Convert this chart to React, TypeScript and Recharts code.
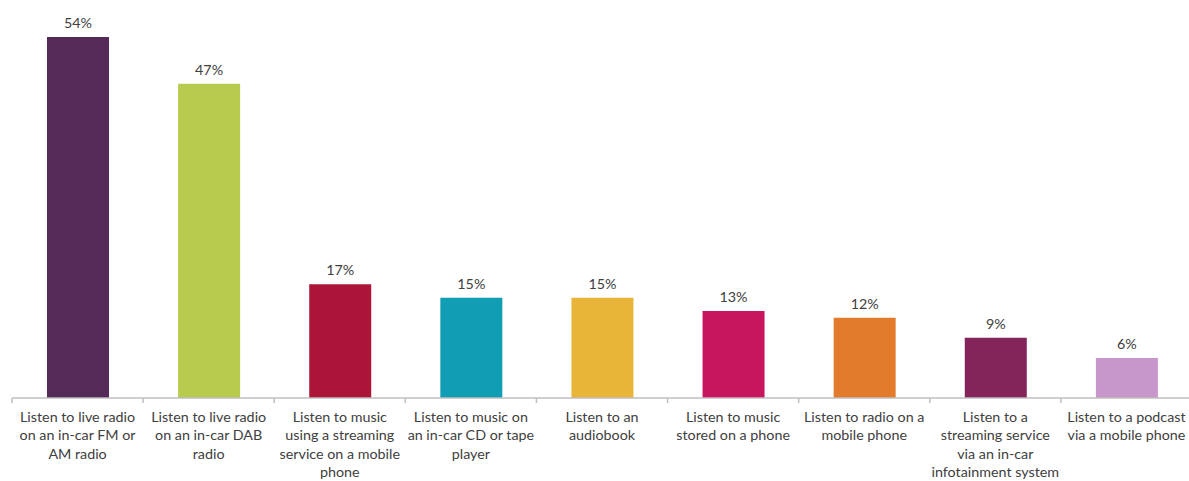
import React from "react";
import { BarChart, Bar, XAxis, YAxis, Cell, LabelList } from "recharts";

const categories: string[] = [
  "Listen to live radio\non an in-car FM or\nAM radio",
  "Listen to live radio\non an in-car DAB\nradio",
  "Listen to music\nusing a streaming\nservice on a mobile\nphone",
  "Listen to music on\nan in-car CD or tape\nplayer",
  "Listen to an\naudiobook",
  "Listen to music\nstored on a phone",
  "Listen to radio on a\nmobile phone",
  "Listen to a\nstreaming service\nvia an in-car\ninfotainment system",
  "Listen to a podcast\nvia a mobile phone",
];
const values: number[] = [54, 47, 17, 15, 15, 13, 12, 9, 6];
const colors: string[] = [
  "#532A58",
  "#B8CB4F",
  "#AD1538",
  "#119DB3",
  "#E8B538",
  "#C8165E",
  "#E27B2B",
  "#83245B",
  "#C797CC",
];

const data = categories.map((name, i) => ({ name, value: values[i] }));

const FONT = "Lato, 'Open Sans', sans-serif";
const TEXT = "#404040";
const AXIS = "#BFBFBF";
const W = 1189;
const H = 481;
const M = { top: 37, right: -3, left: 12, bottom: 0 };
const BAND = (W - M.left - M.right) / categories.length;

const CatTick = (props: any) => {
  const { x, y, payload, index } = props;
  const lines = String(payload.value).split("\n");
  const y0 = y;
  return (
    <g>
      <line x1={x - BAND / 2} x2={x - BAND / 2} y1={y0} y2={y0 + 5} stroke={AXIS} strokeWidth={1.5} />
      {index === categories.length - 1 && (
        <line x1={x + BAND / 2} x2={x + BAND / 2} y1={y0} y2={y0 + 5} stroke={AXIS} strokeWidth={1.5} />
      )}
      {lines.map((l, i) => (
        <text
          key={i}
          x={x}
          y={y0 + 24 + i * 18.4}
          textAnchor="middle"
          fontFamily={FONT}
          fontSize={14.3}
          fill={TEXT}
        >
          {l}
        </text>
      ))}
    </g>
  );
};

export default function App() {
  return (
    <div style={{ position: "absolute", left: 0, top: 0, width: W, height: H, overflow: "hidden", background: "#fff" }}>
      <BarChart width={W} height={H} data={data} margin={M}>
        <XAxis
          dataKey="name"
          height={83}
          tickLine={false}
          tickSize={0}
          tickMargin={0}
          axisLine={{ stroke: AXIS, strokeWidth: 1.5 }}
          interval={0}
          tick={<CatTick />}
        />
        <YAxis hide domain={[0, 54]} />
        <Bar dataKey="value" barSize={62} isAnimationActive={false}>
          {data.map((d, i) => (
            <Cell key={i} fill={colors[i]} />
          ))}
          <LabelList
            dataKey="value"
            position="top"
            offset={9}
            formatter={(v: any) => `${v}%`}
            fill={TEXT}
            fontFamily={FONT}
            fontSize={14.3}
          />
        </Bar>
      </BarChart>
    </div>
  );
}
